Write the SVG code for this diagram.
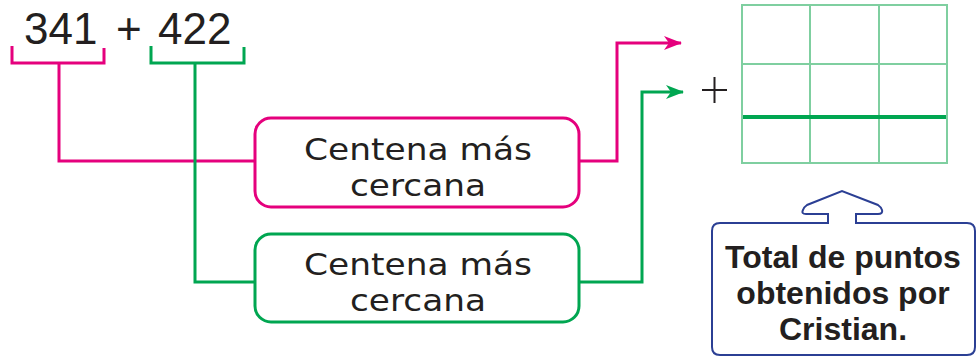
<svg xmlns="http://www.w3.org/2000/svg" width="979" height="362" viewBox="0 0 979 362">
<defs>
<style>
.num{font-family:"Liberation Sans",Arial,sans-serif;font-size:44px;fill:#231f20}
.lbl{font-family:"DejaVu Sans","Liberation Sans",sans-serif;font-size:30.5px;fill:#231f20;text-anchor:middle}
.bold{font-family:"Liberation Sans",Arial,sans-serif;font-size:32px;font-weight:bold;fill:#231f20;text-anchor:middle}
.pink{stroke:#e5007d;stroke-width:3;fill:none}
.green{stroke:#00a651;stroke-width:3;fill:none}
.grid{stroke:#7fcfa0;stroke-width:2;fill:none}
</style>
<marker id="ap" viewBox="0 0 18 14" refX="17" refY="7" markerWidth="18" markerHeight="14" markerUnits="userSpaceOnUse" orient="auto"><path d="M0,0 L18,7 L0,14 L5,7 Z" fill="#e5007d"/></marker>
<marker id="ag" viewBox="0 0 18 14" refX="17" refY="7" markerWidth="18" markerHeight="14" markerUnits="userSpaceOnUse" orient="auto"><path d="M0,0 L18,7 L0,14 L5,7 Z" fill="#00a651"/></marker>
</defs>
<g id="expr">
<text class="num" x="24" y="44">341</text>
<text class="num" x="116" y="44">+</text>
<text class="num" x="158" y="44">422</text>
</g>
<g id="connectors">
<path class="pink" d="M12,46 V63 H104 V48"/>
<path class="pink" d="M59,63 V161 H255"/>
<path class="green" d="M151,46 V63 H244 V47"/>
<path class="green" d="M195,63 V282 H254"/>
<path class="pink" d="M579,161 H617 V43 H681" marker-end="url(#ap)"/>
<path class="green" d="M579,282 H642 V92 H683" marker-end="url(#ag)"/>
</g>
<g id="box1">
<rect x="255" y="118" width="324" height="89" rx="16" fill="#fff" stroke="#e5007d" stroke-width="3"/>
<text class="lbl" x="418" y="160" textLength="228" lengthAdjust="spacingAndGlyphs">Centena más</text>
<text class="lbl" x="418" y="196" textLength="136" lengthAdjust="spacingAndGlyphs">cercana</text>
</g>
<g id="box2">
<rect x="255" y="234" width="324" height="88" rx="16" fill="#fff" stroke="#00a651" stroke-width="3"/>
<text class="lbl" x="418" y="275" textLength="228" lengthAdjust="spacingAndGlyphs">Centena más</text>
<text class="lbl" x="418" y="311" textLength="136" lengthAdjust="spacingAndGlyphs">cercana</text>
</g>
<g id="plus">
<path d="M702,90 H727 M714.5,77 V103" stroke="#231f20" stroke-width="2" fill="none"/>
</g>
<g id="grid">
<rect class="grid" x="742" y="5" width="205" height="158" fill="#fff"/>
<path class="grid" d="M810,5 V163 M879,5 V163 M742,64 H947"/>
<path d="M743,117 H946" stroke="#00a651" stroke-width="4"/>
</g>
<g id="callout">
<path d="M828,223 V214 H806 Q801,214 803,210 Q804,207 807,205 L842,191 L878,205 Q881,207 882,210 Q883,214 878,214 H856 V223 H967 Q975,223 975,231 V347 Q975,355 967,355 H720 Q712,355 712,347 V231 Q712,223 720,223 Z" fill="#fff" stroke="#2b3f94" stroke-width="2"/>
<text class="bold" x="843" y="268">Total de puntos</text>
<text class="bold" x="843" y="304">obtenidos por</text>
<text class="bold" x="843" y="340">Cristian.</text>
</g>
</svg>
